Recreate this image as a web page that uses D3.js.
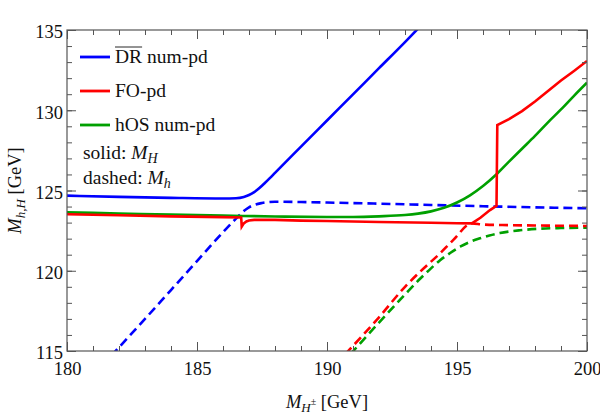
<!DOCTYPE html>
<html>
<head>
<meta charset="utf-8">
<script src="https://cdn.jsdelivr.net/npm/d3@7"></script>
<style>
  body { margin: 0; background: #fff; }
  svg text { font-family: "Liberation Serif", "DejaVu Serif", serif; }
</style>
</head>
<body>
<div id="chart"></div>
<script>
// axis ranges / ticks
const xDomain = [180, 200];
const yDomain = [115, 135];
const xMajorTicks = [180, 185, 190, 195, 200];
const yMajorTicks = [115, 120, 125, 130, 135];
const xMinorTicks = d3.range(180, 201, 1);
const yMinorTicks = d3.range(115, 136, 1);

// DR-bar num-pd, solid = M_H, dashed = M_h   [M_H+- , mass]
const drSolid = [[180, 124.68], [182, 124.6], [184, 124.54], [186, 124.5], [186.5, 124.52], [186.8, 124.6],
  [187.0, 124.72], [187.2, 124.9], [187.4, 125.15], [187.6, 125.45], [187.8, 125.77], [188, 126.1],
  [189, 127.73], [190, 129.36], [191, 130.99], [192, 132.62], [193, 134.25], [193.6, 135.25]];
const drDashed = [[181.7, 114.7], [183, 117.0], [184, 118.8], [185, 120.6], [186, 122.4], [186.5, 123.25],
  [186.8, 123.72], [187.0, 123.95], [187.2, 124.1], [187.5, 124.22], [188, 124.3], [189, 124.28],
  [190, 124.25], [192, 124.18], [194, 124.1], [196, 124.02], [198, 123.95], [200, 123.89]];

// FO-pd
const foSolid = [[180, 123.52], [182, 123.46], [184, 123.39], [186, 123.34], [186.7, 123.32], [186.72, 122.75],
  [186.8, 122.95], [186.9, 123.07], [187.0, 123.13], [187.2, 123.17], [187.5, 123.18], [188, 123.17],
  [189, 123.12], [190, 123.1], [192, 123.04], [194, 122.99], [195, 122.96], [195.57, 122.95],
  [195.9, 123.3], [196.27, 123.78], [196.52, 124.05], [196.55, 129.08], [197, 129.45], [197.5, 129.95],
  [198, 130.55], [198.5, 131.2], [199, 131.85], [199.5, 132.45], [200, 133.07]];
const foDashed = [[190.7, 114.8], [192, 117.1], [193, 119.0], [193.58, 119.94], [194.35, 121.09],
  [194.86, 121.92], [195.57, 122.95], [196, 122.88], [197, 122.84], [198, 122.82], [200, 122.79]];

// hOS num-pd
const hosSolid = [[180, 123.64], [182, 123.57], [184, 123.5], [186, 123.44], [188, 123.38], [190, 123.35],
  [191, 123.35], [192, 123.39], [193, 123.47], [193.5, 123.56], [194, 123.7], [194.5, 123.92],
  [195, 124.25], [195.5, 124.7], [196, 125.28], [196.5, 125.98], [197, 126.8], [197.5, 127.6],
  [198, 128.4], [198.5, 129.25], [199, 130.05], [199.5, 130.9], [200, 131.72]];
const hosDashed = [[190.9, 114.8], [192, 116.77], [193, 118.52], [193.58, 119.5], [194, 120.15],
  [194.35, 120.65], [194.75, 121.12], [195.12, 121.5], [195.5, 121.8], [195.88, 122.02], [196.25, 122.2],
  [196.65, 122.35], [197.42, 122.52], [198.19, 122.62], [199, 122.66], [200, 122.68]];

const legendNames = ['DR num-pd', 'FO-pd', 'hOS num-pd'];
const seriesColors = ['#0000ff', '#ff0000', '#00a000'];

const width = 600, height = 417;
const margin = { top: 30, right: 13, bottom: 66, left: 67 };
const plotW = width - margin.left - margin.right;
const plotH = height - margin.top - margin.bottom;

const svg = d3.select('#chart').append('svg')
  .attr('width', width)
  .attr('height', height);

const g = svg.append('g')
  .attr('transform', `translate(${margin.left},${margin.top})`);

const x = d3.scaleLinear().domain(xDomain).range([0, plotW]);
const y = d3.scaleLinear().domain(yDomain).range([plotH, 0]);

g.append('clipPath').attr('id', 'plotclip')
  .append('rect').attr('width', plotW).attr('height', plotH);

// curves
const line = d3.line().x(d => x(d[0])).y(d => y(d[1]));
const curves = [
  { data: drSolid, color: seriesColors[0], dash: null, curve: d3.curveMonotoneX },
  { data: drDashed, color: seriesColors[0], dash: '9,5', curve: d3.curveMonotoneX },
  { data: hosSolid, color: seriesColors[2], dash: null, curve: d3.curveMonotoneX },
  { data: hosDashed, color: seriesColors[2], dash: '9,5', curve: d3.curveMonotoneX },
  { data: foSolid, color: seriesColors[1], dash: null, curve: d3.curveLinear },
  { data: foDashed, color: seriesColors[1], dash: '9,5', curve: d3.curveMonotoneX }
];

const lines = g.append('g').attr('clip-path', 'url(#plotclip)');
curves.forEach(c => {
  lines.append('path')
    .datum(c.data)
    .attr('fill', 'none')
    .attr('stroke', c.color)
    .attr('stroke-width', 2.6)
    .attr('stroke-dasharray', c.dash)
    .attr('d', line.curve(c.curve));
});

// frame + ticks (inward on all sides)
const axisColor = '#555';
function styleAxis(sel) {
  sel.select('.domain').remove();
  sel.selectAll('.tick line').attr('stroke', axisColor);
}
const tickFont = 18.5;

g.append('g').attr('transform', `translate(0,${plotH})`)
  .call(d3.axisBottom(x).tickValues(xMinorTicks).tickSize(-5).tickFormat(''))
  .call(styleAxis);
g.append('g').attr('transform', `translate(0,${plotH})`)
  .call(d3.axisBottom(x).tickValues(xMajorTicks).tickSize(-9).tickPadding(11).tickFormat(d3.format('d')))
  .call(styleAxis)
  .call(a => a.selectAll('text').attr('font-size', tickFont).attr('fill', '#111'));
g.append('g')
  .call(d3.axisTop(x).tickValues(xMinorTicks).tickSize(-5).tickFormat(''))
  .call(styleAxis);
g.append('g')
  .call(d3.axisTop(x).tickValues(xMajorTicks).tickSize(-9).tickFormat(''))
  .call(styleAxis);

g.append('g')
  .call(d3.axisLeft(y).tickValues(yMinorTicks).tickSize(-5).tickFormat(''))
  .call(styleAxis);
g.append('g')
  .call(d3.axisLeft(y).tickValues(yMajorTicks).tickSize(-9).tickPadding(4).tickFormat(d3.format('d')))
  .call(styleAxis)
  .call(a => a.selectAll('text').attr('font-size', tickFont).attr('dy', '0.42em').attr('fill', '#111'));
g.append('g').attr('transform', `translate(${plotW},0)`)
  .call(d3.axisRight(y).tickValues(yMinorTicks).tickSize(-5).tickFormat(''))
  .call(styleAxis);
g.append('g').attr('transform', `translate(${plotW},0)`)
  .call(d3.axisRight(y).tickValues(yMajorTicks).tickSize(-9).tickFormat(''))
  .call(styleAxis);

g.append('rect')
  .attr('width', plotW).attr('height', plotH)
  .attr('fill', 'none').attr('stroke', axisColor).attr('stroke-width', 1.2);

// legend
const legendFont = 19.5;
const legend = g.append('g').attr('transform', 'translate(13,27)');
legendNames.forEach((name, i) => {
  const row = legend.append('g').attr('transform', `translate(0,${i * 34})`);
  row.append('line')
    .attr('x1', 0).attr('x2', 30)
    .attr('stroke', seriesColors[i]).attr('stroke-width', 2.8);
  const t = row.append('text')
    .attr('x', 35).attr('y', 6)
    .attr('font-size', legendFont).attr('fill', '#111')
    .text(name);
  if (i === 0) {
    const node = t.node();
    const s = node.getStartPositionOfChar(0).x;
    const w = node.getSubStringLength(0, 2);
    row.append('line')
      .attr('x1', s).attr('x2', s + w)
      .attr('y1', -10).attr('y2', -10)
      .attr('stroke', '#111').attr('stroke-width', 0.9);
  }
});

const note1 = g.append('text').attr('x', 16).attr('y', 129).attr('font-size', legendFont).attr('fill', '#111');
note1.append('tspan').text('solid:  ');
note1.append('tspan').attr('font-style', 'italic').text('M');
note1.append('tspan').attr('font-style', 'italic').attr('font-size', 14).attr('dy', 4).text('H');

const note2 = g.append('text').attr('x', 16).attr('y', 154).attr('font-size', legendFont).attr('fill', '#111');
note2.append('tspan').text('dashed:  ');
note2.append('tspan').attr('font-style', 'italic').text('M');
note2.append('tspan').attr('font-style', 'italic').attr('font-size', 14).attr('dy', 4).text('h');

// axis titles
const xt = svg.append('text')
  .attr('x', margin.left + plotW / 2).attr('y', 408)
  .attr('text-anchor', 'middle').attr('font-size', 18.5).attr('fill', '#111');
xt.append('tspan').attr('font-style', 'italic').text('M');
xt.append('tspan').attr('font-style', 'italic').attr('font-size', 13).attr('dy', 4).text('H');
xt.append('tspan').attr('font-size', 10).attr('dy', -7).text('±');
xt.append('tspan').attr('dy', 3).text('  [GeV]');

const yt = svg.append('text')
  .attr('transform', `translate(21,${margin.top + plotH / 2}) rotate(-90)`)
  .attr('text-anchor', 'middle').attr('font-size', 18.5).attr('fill', '#111');
yt.append('tspan').attr('font-style', 'italic').text('M');
yt.append('tspan').attr('font-style', 'italic').attr('font-size', 13).attr('dy', 4).text('h,H');
yt.append('tspan').attr('dy', -4).text('  [GeV]');
</script>
</body>
</html>
